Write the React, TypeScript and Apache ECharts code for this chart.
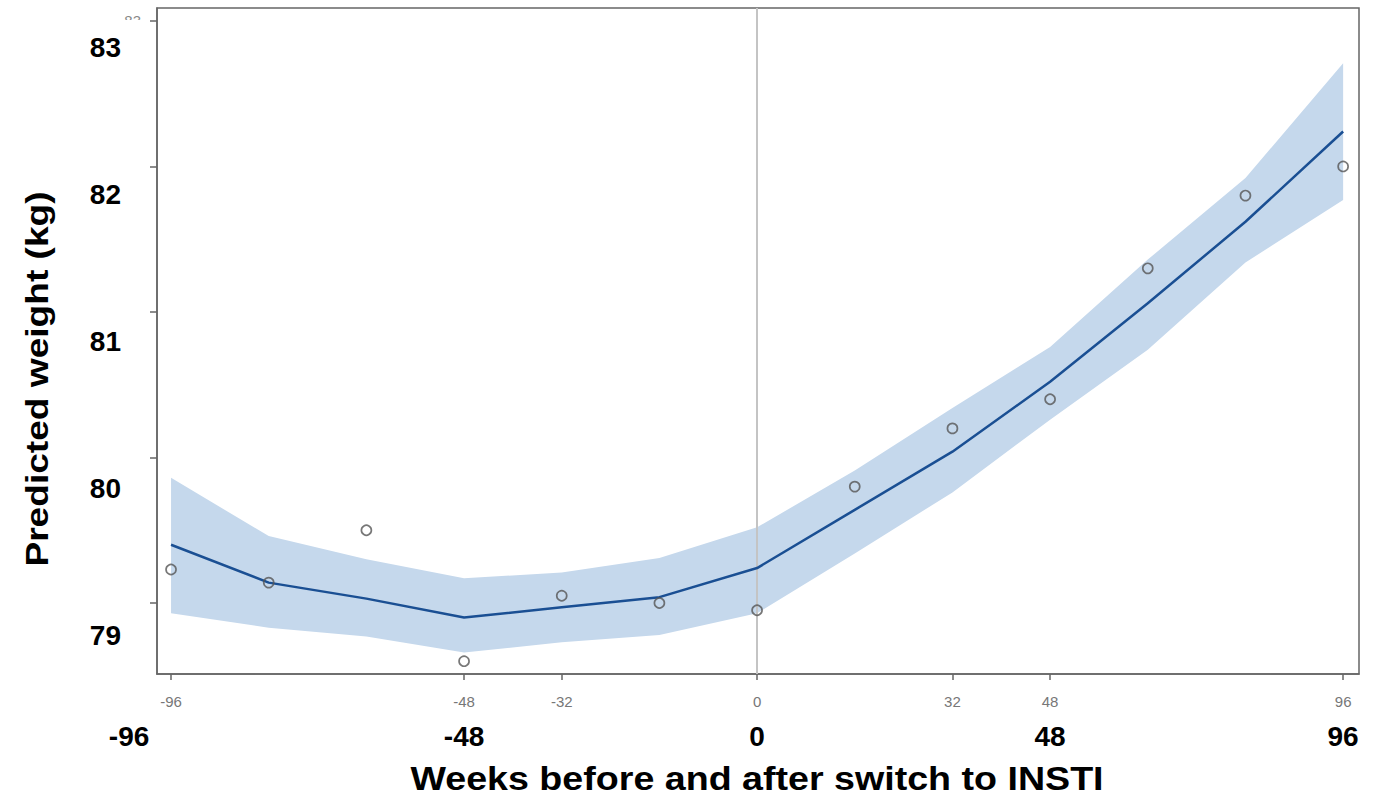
import React, { useEffect, useRef } from "react";
import * as echarts from "echarts";

const weeks = [-96, -80, -64, -48, -32, -16, 0, 16, 32, 48, 64, 80, 96];
const fitted = [79.40, 79.14, 79.03, 78.90, 78.97, 79.04, 79.24, 79.64, 80.04, 80.52, 81.06, 81.62, 82.24];
const upperCI = [79.86, 79.46, 79.30, 79.17, 79.21, 79.31, 79.52, 79.91, 80.34, 80.76, 81.36, 81.92, 82.71];
const lowerCI = [78.93, 78.83, 78.77, 78.66, 78.73, 78.78, 78.93, 79.34, 79.76, 80.26, 80.74, 81.34, 81.77];
const observed = [79.23, 79.14, 79.50, 78.60, 79.05, 79.00, 78.95, 79.80, 80.20, 80.40, 81.30, 81.80, 82.00];

const smallXTicks = [-96, -48, -32, 0, 32, 48, 96];
const bigXTicks = [-96, -48, 0, 48, 96];
const yTicks = [79, 80, 81, 82, 83];
const smallYLabels = [83];

const xTitle = "Weeks before and after switch to INSTI";
const yTitle = "Predicted weight (kg)";

const FONT = "'Liberation Sans', Arial, Helvetica, sans-serif";

export default function App() {
  const ref = useRef<HTMLDivElement>(null);

  useEffect(() => {
    document.body.style.margin = "0";
    if (!ref.current) return;
    const chart = echarts.init(ref.current, null, { renderer: "svg" });

    const pairs = (ys: number[]) => weeks.map((w, i) => [w, ys[i]]);
    const bandData = weeks.map((w, i) => [w, lowerCI[i], upperCI[i]]);
    const bigStyle = { fontSize: 28, fontWeight: "bold", color: "#000", fontFamily: FONT };

    const option: any = {
      animation: false,
      backgroundColor: "#ffffff",
      textStyle: { fontFamily: FONT },
      grid: {
        left: 157,
        right: 25,
        top: 8,
        bottom: 123,
        show: true,
        borderColor: "#666",
        borderWidth: 1.5,
        backgroundColor: "transparent",
      },
      xAxis: [
        {
          type: "value",
          min: -98.3,
          max: 98.6,
          axisLine: { show: true, onZero: false, lineStyle: { color: "#666", width: 1.5 } },
          axisTick: { show: true, length: 6, customValues: smallXTicks, lineStyle: { color: "#666", width: 1.5 } },
          axisLabel: { customValues: smallXTicks, fontSize: 15, color: "#777", margin: 20, fontFamily: FONT },
          splitLine: { show: false },
        },
        {
          type: "value",
          position: "bottom",
          min: -98.3,
          max: 98.6,
          axisLine: { show: false, onZero: false },
          axisTick: { show: false },
          axisLabel: {
            customValues: bigXTicks,
            margin: 48,
            ...bigStyle,
            formatter: (v: number) => (v === bigXTicks[0] ? `{shift|${v}}` : `{n|${v}}`),
            rich: {
              shift: { ...bigStyle, padding: [0, 84, 0, 0] },
              n: { ...bigStyle },
            },
          },
          splitLine: { show: false },
        },
      ],
      yAxis: [
        {
          type: "value",
          min: 78.512,
          max: 83.089,
          axisLine: { show: true, onZero: false, lineStyle: { color: "#666", width: 1.5 } },
          axisTick: { show: true, length: 7, customValues: yTicks, lineStyle: { color: "#666", width: 1.5 } },
          axisLabel: { customValues: smallYLabels, fontSize: 15, color: "#888", margin: 16, fontFamily: FONT },
          splitLine: { show: false },
        },
        {
          type: "value",
          position: "left",
          min: 78.741,
          max: 83.272,
          axisLine: { show: false, onZero: false },
          axisTick: { show: false },
          axisLabel: { customValues: yTicks, margin: 36, ...bigStyle },
          splitLine: { show: false },
        },
      ],
      series: [
        {
          name: "band",
          type: "custom",
          xAxisIndex: 0,
          yAxisIndex: 0,
          data: bandData,
          encode: { x: 0, y: [1, 2] },
          silent: true,
          clip: true,
          z: 1,
          renderItem: (params: any, api: any) => {
            if (params.dataIndexInside !== 0) return null;
            const pts: number[][] = [];
            for (let j = 0; j < weeks.length; j++) pts.push(api.coord([weeks[j], upperCI[j]]));
            for (let j = weeks.length - 1; j >= 0; j--) pts.push(api.coord([weeks[j], lowerCI[j]]));
            return {
              type: "polygon",
              shape: { points: pts },
              style: { fill: "#c5d8ec", stroke: "none" },
            };
          },
        },
        {
          name: "fitted",
          type: "line",
          xAxisIndex: 0,
          yAxisIndex: 0,
          data: pairs(fitted),
          symbol: "none",
          lineStyle: { color: "#1a4f93", width: 2.5 },
          z: 3,
          markLine: {
            silent: true,
            symbol: "none",
            label: { show: false },
            lineStyle: { color: "#c4c4c4", width: 2, type: "solid" },
            data: [{ xAxis: 0 }],
            z: 2,
          },
        },
        {
          name: "observed",
          type: "scatter",
          xAxisIndex: 0,
          yAxisIndex: 0,
          data: pairs(observed),
          symbol: "circle",
          symbolSize: 10,
          itemStyle: { color: "rgba(0,0,0,0)", borderColor: "#555", borderWidth: 1.7 },
          z: 4,
        },
      ],
      graphic: [
        {
          type: "rect",
          z: 100,
          shape: { x: 100, y: 20, width: 50, height: 14 },
          style: { fill: "#ffffff" },
        },
        {
          type: "text",
          z: 100,
          x: 757,
          y: 778,
          scaleX: 1.14,
          style: {
            text: xTitle,
            fill: "#000",
            font: `bold 33px ${FONT}`,
            textAlign: "center",
            textVerticalAlign: "middle",
          },
        },
        {
          type: "text",
          z: 100,
          x: 37,
          y: 379,
          rotation: Math.PI / 2,
          scaleX: 1.16,
          style: {
            text: yTitle,
            fill: "#000",
            font: `bold 32px ${FONT}`,
            textAlign: "center",
            textVerticalAlign: "middle",
          },
        },
      ],
    };

    chart.setOption(option);
    return () => chart.dispose();
  }, []);

  return <div ref={ref} style={{ width: 1384, height: 797 }} />;
}
